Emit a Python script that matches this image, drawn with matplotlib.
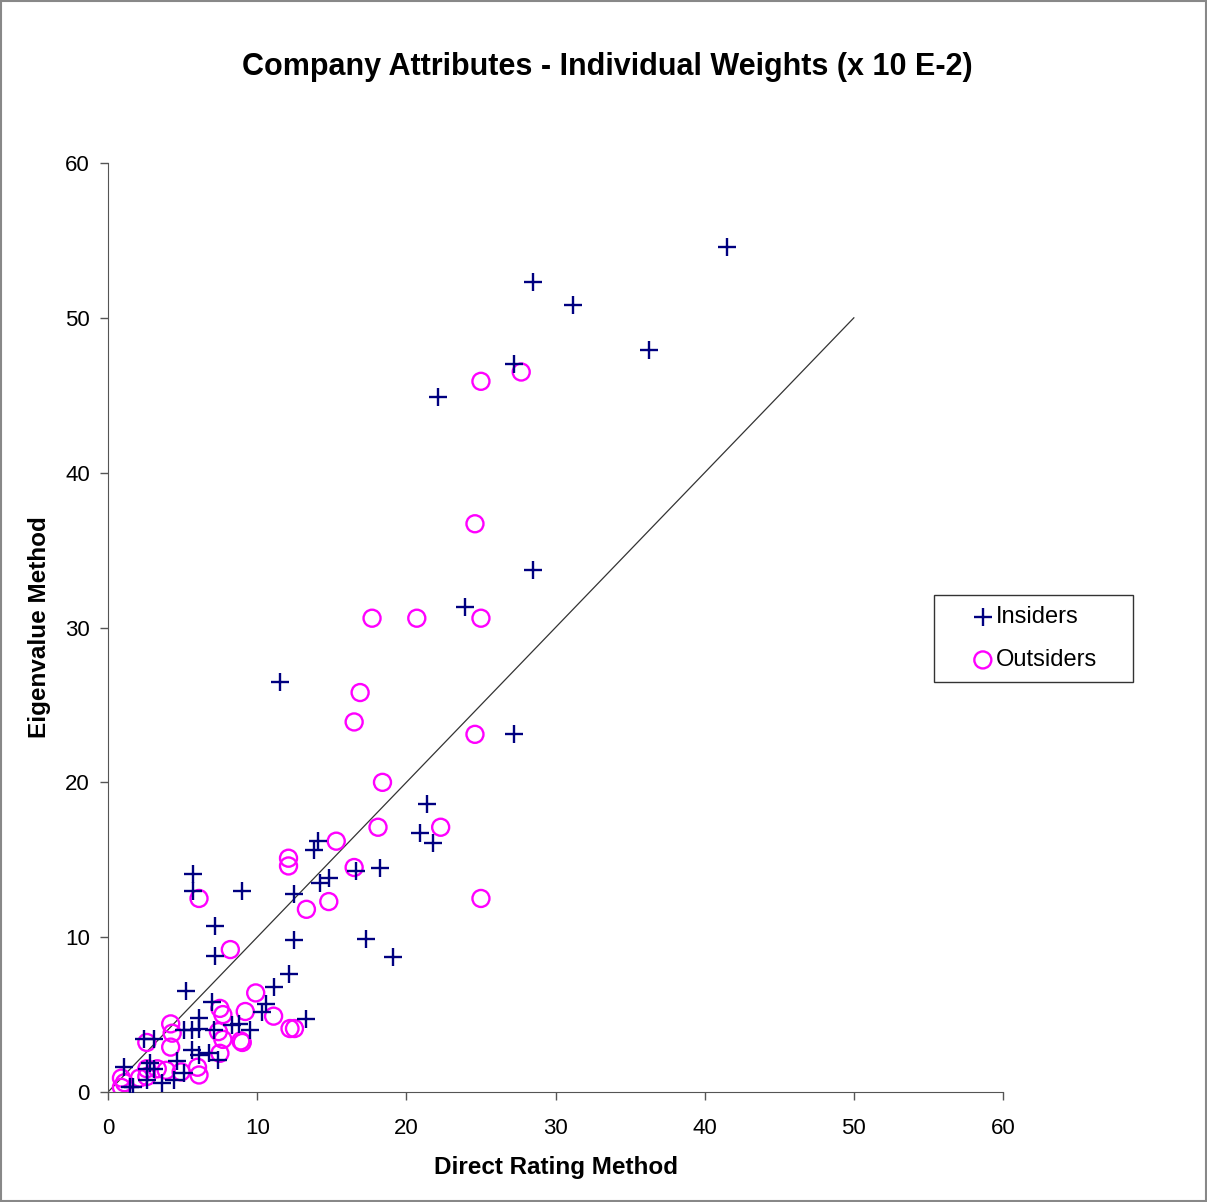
import numpy as np
import matplotlib
matplotlib.use("Agg")
import matplotlib.pyplot as plt
from matplotlib.patches import Rectangle

plt.rcParams['font.family'] = ['Liberation Sans', 'DejaVu Sans']

# Individual weights (x 10 E-2): direct rating vs eigenvalue method
insiders_x = [41.5, 28.5, 31.2, 36.3, 27.2, 22.1, 28.5, 23.9, 11.5, 27.2,
              21.4, 20.9, 21.8, 14.1, 13.8, 18.2, 16.6, 14.8, 14.2, 5.7,
              5.7, 9.0, 12.5, 7.2, 17.3, 12.5, 19.1, 7.2, 12.1, 5.2,
              11.1, 13.3, 7.0, 6.1, 10.6, 10.3, 5.1, 5.6, 6.1, 7.1,
              8.3, 8.8, 9.5, 5.6, 6.1, 6.8, 7.4, 2.4, 3.1, 1.1,
              2.6, 3.1, 1.7, 3.6, 4.4, 5.1, 4.6, 2.8, 2.6, 1.5]
insiders_y = [54.6, 52.3, 50.8, 47.9, 47.0, 44.9, 33.7, 31.3, 26.5, 23.1,
              18.6, 16.7, 16.1, 16.2, 15.6, 14.5, 14.3, 13.8, 13.5, 14.1,
              13.0, 13.0, 12.8, 10.7, 9.9, 9.8, 8.7, 8.8, 7.6, 6.5,
              6.8, 4.7, 5.8, 4.8, 5.7, 5.2, 4.0, 4.0, 4.1, 4.0,
              4.3, 4.4, 4.0, 2.7, 2.4, 2.5, 2.1, 3.4, 3.4, 1.6,
              1.5, 1.5, 0.3, 0.6, 0.8, 1.2, 2.0, 1.9, 0.8, 0.3]

outsiders_x = [27.7, 25.0, 24.6, 17.7, 20.7, 25.0, 16.9, 16.5, 24.6, 18.4,
               22.3, 18.1, 15.3, 12.1, 12.1, 16.5, 14.8, 13.3, 25.0, 6.1,
               8.2, 9.9, 7.5, 7.7, 9.2, 11.1, 4.2, 4.3, 7.4, 7.7,
               8.9, 9.0, 12.2, 12.5, 4.2, 7.5, 2.6, 0.9, 1.1, 0.9,
               2.1, 2.6, 2.6, 3.3, 3.9, 4.9, 6.0, 6.1]
outsiders_y = [46.5, 45.9, 36.7, 30.6, 30.6, 30.6, 25.8, 23.9, 23.1, 20.0,
               17.1, 17.1, 16.2, 15.1, 14.6, 14.5, 12.3, 11.8, 12.5, 12.5,
               9.2, 6.4, 5.4, 5.0, 5.2, 4.9, 4.4, 3.8, 3.9, 3.4,
               3.3, 3.2, 4.1, 4.1, 2.9, 2.5, 3.2, 0.9, 0.6, 0.3,
               0.9, 1.0, 1.5, 1.5, 1.4, 1.3, 1.6, 1.1]

fig = plt.figure(figsize=(12.07, 12.02), dpi=100)
ax = fig.add_axes([0.0895, 0.0915, 0.7415, 0.7729])

# equal-weight reference line
ax.plot([0, 50], [0, 50], color='#333333', lw=0.9, zorder=1)

ax.scatter(insiders_x, insiders_y, marker='+', s=170, color='#000080',
           linewidths=1.7, label='Insiders', zorder=3)
ax.scatter(outsiders_x, outsiders_y, marker='o', s=150, facecolors='none',
           edgecolors='#ff00ff', linewidths=1.7, label='Outsiders', zorder=2)

ax.set_xlim(0, 60)
ax.set_ylim(0, 60)
ax.set_xticks(np.arange(0, 61, 10))
ax.set_yticks(np.arange(0, 61, 10))
ax.tick_params(labelsize=16, length=6, direction='out', width=1, color='#555555')
ax.tick_params(axis='x', pad=13)
ax.tick_params(axis='y', pad=7)
ax.spines['top'].set_visible(False)
ax.spines['right'].set_visible(False)
for s in ['left', 'bottom']:
    ax.spines[s].set_color('#555555')

ax.set_xlabel('Direct Rating Method', fontsize=17.5, fontweight='bold', labelpad=12)
ax.set_ylabel('Eigenvalue Method', fontsize=17.5, fontweight='bold', labelpad=10)

fig.text(0.503, 0.944, 'Company Attributes - Individual Weights (x 10 E-2)',
         ha='center', va='center', fontsize=22, fontweight='bold')

# legend box drawn separately so its size can be set freely
fig.patches.append(Rectangle((0.774, 0.4326), 0.165, 0.0724, transform=fig.transFigure,
                             fill=False, edgecolor='#333333', lw=1.0))
ax.legend(loc='center left', bbox_to_anchor=(0.8045, 0.4688),
          bbox_transform=fig.transFigure, fontsize=17, frameon=False,
          borderpad=0, handletextpad=0.05, labelspacing=0.9,
          handlelength=1.0, borderaxespad=0)

# outer frame of the chart area
fig.patches.append(Rectangle((0.001, 0.001), 0.998, 0.998, transform=fig.transFigure,
                             fill=False, edgecolor='#888888', lw=1.5))

fig.savefig('out.png', dpi=100)
